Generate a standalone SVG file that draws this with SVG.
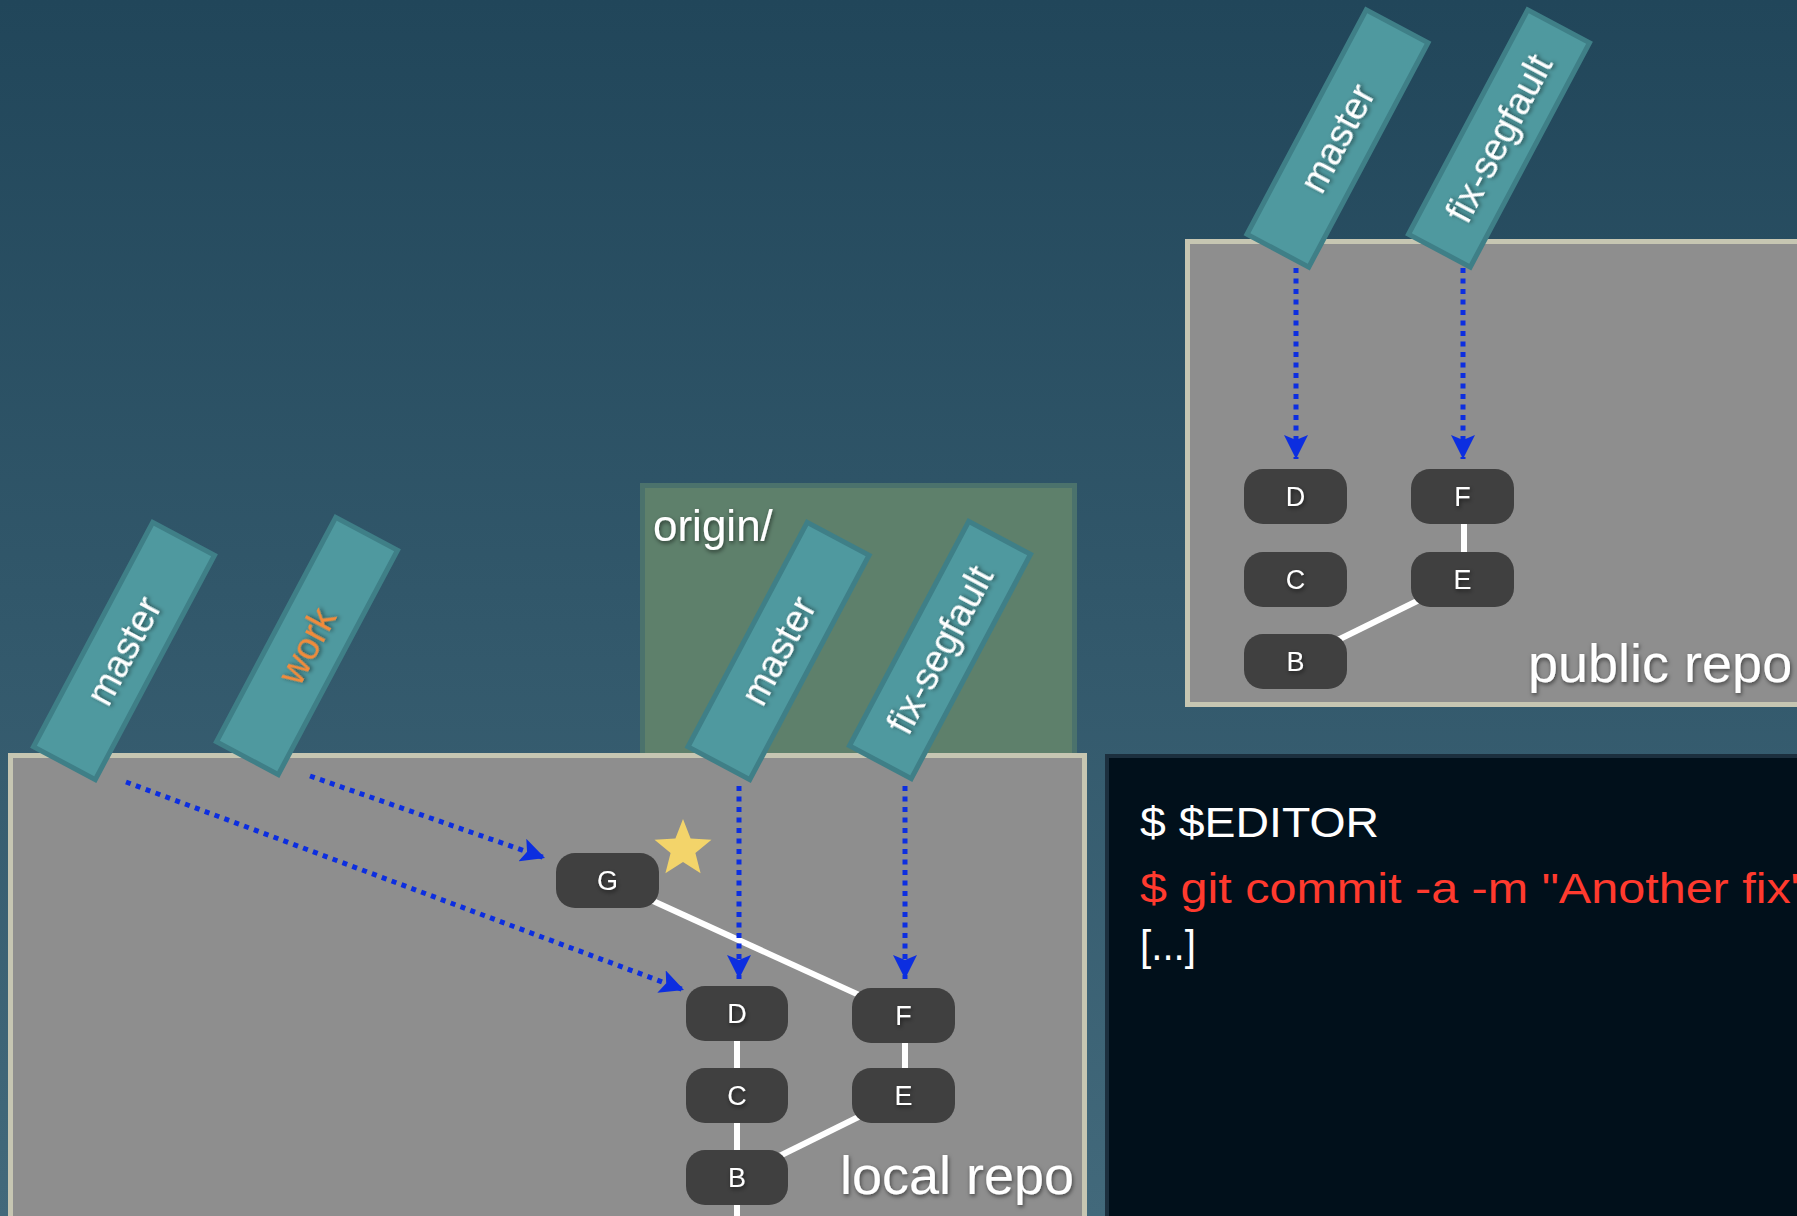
<svg xmlns="http://www.w3.org/2000/svg" width="1797" height="1216" viewBox="0 0 1797 1216">
<style>
.tag{fill:#4f999f;stroke:#3f7f87;stroke-width:5}
.tl{font-family:"Liberation Sans",Arial,sans-serif;font-size:38px;fill:#ffffff;text-anchor:middle;filter:url(#sh)}
.repo{fill:#8e8e8e;stroke:#c6c6b2;stroke-width:5}
.cm{fill:#404040}
.ct{font-family:"Liberation Sans",Arial,sans-serif;font-size:27px;fill:#ffffff;text-anchor:middle;filter:url(#sh)}
.big{font-family:"Liberation Sans",Arial,sans-serif;font-size:54px;fill:#ffffff;filter:url(#sh)}
.edge{stroke:#ffffff;stroke-width:6;fill:none}
.ptr{stroke:#0c2ee0;stroke-width:5;stroke-dasharray:5 5.5;fill:none;marker-end:url(#ah)}
.term{font-family:"Liberation Sans",Arial,sans-serif;font-size:42px}
</style>
<defs>
<linearGradient id="bg" x1="0" y1="0" x2="0" y2="1">
<stop offset="0" stop-color="#21465a"/>
<stop offset="1" stop-color="#42697b"/>
</linearGradient>
<filter id="sh" x="-20%" y="-40%" width="140%" height="180%">
<feDropShadow dx="1" dy="2" stdDeviation="2" flood-color="#000000" flood-opacity="0.55"/>
</filter>
<marker id="ah" viewBox="0 0 24 24" markerWidth="24" markerHeight="24" markerUnits="userSpaceOnUse" refX="24" refY="12" orient="auto">
<path d="M0,0 L24,12 L0,24 L5,12 Z" fill="#0c2ee0"/>
</marker>
</defs>
<rect x="0" y="0" width="1797" height="1216" fill="url(#bg)"/>

<g id="origin-box">
<rect x="642.5" y="485.5" width="432" height="300" fill="#5e806b" stroke="#4b726c" stroke-width="5"/>
<text x="653" y="541" class="big" style="font-size:44px">origin/</text>
</g>

<g id="local-repo">
<rect x="10.5" y="755.5" width="1074" height="520" class="repo"/>
<text x="840" y="1194" class="big">local repo</text>
</g>

<g id="public-repo">
<rect x="1187.5" y="241.5" width="700" height="463" class="repo"/>
<text x="1528" y="682" class="big">public repo</text>
</g>

<g id="terminal">
<rect x="1107" y="756" width="800" height="600" fill="#01101b" stroke="#1c2f3e" stroke-width="4"/>
<text x="1140" y="837" class="term" fill="#ffffff" textLength="239" lengthAdjust="spacingAndGlyphs">$ $EDITOR</text>
<text x="1140" y="903" class="term" fill="#ff3a2e" textLength="668" lengthAdjust="spacingAndGlyphs">$ git commit -a -m "Another fix"</text>
<text x="1140" y="960" class="term" fill="#ffffff" textLength="56" lengthAdjust="spacingAndGlyphs">[...]</text>
</g>

<g id="connectors">
<line class="edge" x1="737" y1="1013" x2="737" y2="1095"/>
<line class="edge" x1="737" y1="1095" x2="737" y2="1216"/>
<line class="edge" x1="905" y1="1015" x2="905" y2="1095"/>
<line class="edge" x1="903" y1="1095" x2="737" y2="1177"/>
<line class="edge" x1="607" y1="880" x2="903" y2="1015"/>
<line class="edge" x1="1464" y1="496" x2="1464" y2="579"/>
<line class="edge" x1="1462" y1="579" x2="1295" y2="661"/>
<line class="ptr" x1="126" y1="782" x2="684" y2="990"/>
<line class="ptr" x1="310" y1="776" x2="545" y2="858"/>
<line class="ptr" x1="739" y1="786" x2="739" y2="979"/>
<line class="ptr" x1="905" y1="786" x2="905" y2="979"/>
<line class="ptr" x1="1296" y1="268" x2="1296" y2="459"/>
<line class="ptr" x1="1463" y1="268" x2="1463" y2="459"/>
</g>

<g id="tag-local-master" transform="translate(124,651) rotate(-62)">
<rect x="-127" y="-35" width="254" height="70" class="tag"/>
<text x="0" y="13" class="tl">master</text>
</g>
<g id="tag-work" transform="translate(307,646) rotate(-62)">
<rect x="-127" y="-35" width="254" height="70" class="tag"/>
<text x="0" y="13" class="tl" style="fill:#f28b3a">work</text>
</g>
<g id="tag-origin-master" transform="translate(778.5,651) rotate(-62)">
<rect x="-127" y="-35" width="254" height="70" class="tag"/>
<text x="0" y="13" class="tl">master</text>
</g>
<g id="tag-origin-fix" transform="translate(940,650) rotate(-62)">
<rect x="-127" y="-35" width="254" height="70" class="tag"/>
<text x="0" y="13" class="tl">fix-segfault</text>
</g>
<g id="tag-public-master" transform="translate(1337.5,138.5) rotate(-62)">
<rect x="-127" y="-35" width="254" height="70" class="tag"/>
<text x="0" y="13" class="tl">master</text>
</g>
<g id="tag-public-fix" transform="translate(1499,138.5) rotate(-62)">
<rect x="-127" y="-35" width="254" height="70" class="tag"/>
<text x="0" y="13" class="tl">fix-segfault</text>
</g>

<g id="local-G">
<rect x="556" y="853" width="103" height="55" rx="19" class="cm"/>
<text x="607.5" y="890" class="ct">G</text>
</g>
<g id="star">
<polygon points="683,819 690.6,838.5 711.5,839.7 695.4,853 700.6,873.3 683,862 665.4,873.3 670.6,853 654.5,839.7 675.4,838.5" fill="#f3d46a"/>
</g>
<g id="local-D">
<rect x="686" y="986" width="102" height="55" rx="19" class="cm"/>
<text x="737" y="1023" class="ct">D</text>
</g>
<g id="local-C">
<rect x="686" y="1068" width="102" height="55" rx="19" class="cm"/>
<text x="737" y="1105" class="ct">C</text>
</g>
<g id="local-B">
<rect x="686" y="1150" width="102" height="55" rx="19" class="cm"/>
<text x="737" y="1187" class="ct">B</text>
</g>
<g id="local-F">
<rect x="852" y="988" width="103" height="55" rx="19" class="cm"/>
<text x="903.5" y="1025" class="ct">F</text>
</g>
<g id="local-E">
<rect x="852" y="1068" width="103" height="55" rx="19" class="cm"/>
<text x="903.5" y="1105" class="ct">E</text>
</g>

<g id="public-D">
<rect x="1244" y="469" width="103" height="55" rx="19" class="cm"/>
<text x="1295.5" y="506" class="ct">D</text>
</g>
<g id="public-C">
<rect x="1244" y="552" width="103" height="55" rx="19" class="cm"/>
<text x="1295.5" y="589" class="ct">C</text>
</g>
<g id="public-B">
<rect x="1244" y="634" width="103" height="55" rx="19" class="cm"/>
<text x="1295.5" y="671" class="ct">B</text>
</g>
<g id="public-F">
<rect x="1411" y="469" width="103" height="55" rx="19" class="cm"/>
<text x="1462.5" y="506" class="ct">F</text>
</g>
<g id="public-E">
<rect x="1411" y="552" width="103" height="55" rx="19" class="cm"/>
<text x="1462.5" y="589" class="ct">E</text>
</g>
</svg>
